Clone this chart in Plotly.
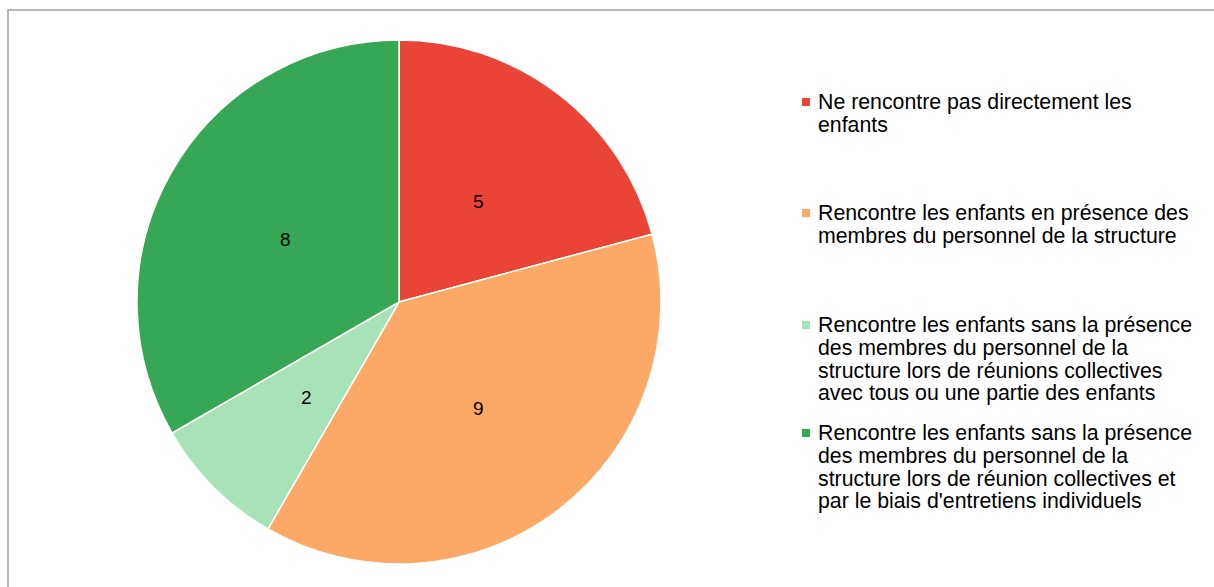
import math
import plotly.graph_objects as go

W, H = 1214, 587

categories = [
    "Ne rencontre pas directement les enfants",
    "Rencontre les enfants en présence des membres du personnel de la structure",
    "Rencontre les enfants sans la présence des membres du personnel de la structure lors de réunions collectives avec tous ou une partie des enfants",
    "Rencontre les enfants sans la présence des membres du personnel de la structure lors de réunion collectives et par le biais d'entretiens individuels",
]
values = [5, 9, 2, 8]
colors = ["#EA4436", "#FCA866", "#A7E2B8", "#36A855"]

# legend text, wrapped the way it is laid out beside the pie
legend_lines = [
    ["Ne rencontre pas directement les", "enfants"],
    ["Rencontre les enfants en présence des", "membres du personnel de la structure"],
    ["Rencontre les enfants sans la présence", "des membres du personnel de la",
     "structure lors de réunions collectives", "avec tous ou une partie des enfants"],
    ["Rencontre les enfants sans la présence", "des membres du personnel de la",
     "structure lors de réunion collectives et", "par le biais d'entretiens individuels"],
]

FONT = "Liberation Sans, Arial, sans-serif"

# pie geometry in pixels
cx, cy, r = 399, 302, 262

fig = go.Figure(go.Pie(
    labels=categories,
    values=values,
    sort=False,
    direction="clockwise",
    rotation=0,
    marker=dict(colors=colors, line=dict(color="#FFFFFF", width=1.5)),
    textinfo="none",
    showlegend=False,
    hoverinfo="label+value",
    domain=dict(x=[(cx - r) / W, (cx + r) / W], y=[1 - (cy + r) / H, 1 - (cy - r) / H]),
))

shapes = [
    # chart frame
    dict(type="rect", xref="paper", yref="paper",
         x0=8 / W, x1=1.05, y0=-0.05, y1=1 - 10 / H,
         line=dict(color="#A0A0A0", width=1.5), fillcolor="rgba(0,0,0,0)", layer="below"),
]
annotations = []

# value labels at half radius on each slice's bisector
total = sum(values)
cum = 0
for v in values:
    mid = (cum + v / 2) / total * 2 * math.pi
    cum += v
    lx = cx + 0.5 * r * math.sin(mid)
    ly = cy - 0.5 * r * math.cos(mid) + 3
    annotations.append(dict(
        xref="paper", yref="paper", x=lx / W, y=1 - ly / H,
        xanchor="center", yanchor="middle", showarrow=False,
        text=str(v), font=dict(family=FONT, size=19, color="#000000"),
    ))

item_tops = [102, 213, 325, 433]
line_gap = 22.8
text_x = 816
for i, (lines, top) in enumerate(zip(legend_lines, item_tops)):
    sq = 4
    shapes.append(dict(type="rect", xref="paper", yref="paper",
                       x0=(806 - sq) / W, x1=(806 + sq) / W,
                       y0=1 - (top + sq) / H, y1=1 - (top - sq) / H,
                       line=dict(width=0), fillcolor=colors[i]))
    for j, line in enumerate(lines):
        yp = top + j * line_gap
        annotations.append(dict(
            xref="paper", yref="paper", x=text_x / W, y=1 - yp / H,
            xanchor="left", yanchor="middle", showarrow=False,
            text=line, font=dict(family=FONT, size=21.3, color="#000000"),
        ))

fig.update_layout(
    width=W, height=H,
    margin=dict(l=0, r=0, t=0, b=0),
    paper_bgcolor="#FFFFFF",
    plot_bgcolor="#FFFFFF",
    shapes=shapes,
    annotations=annotations,
)

fig.write_html("out.html")
